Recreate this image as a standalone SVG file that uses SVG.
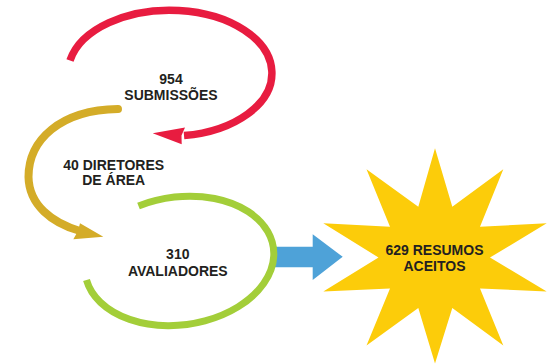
<svg xmlns="http://www.w3.org/2000/svg" width="551" height="364" viewBox="0 0 551 364">
  <style>
    .lbl { font-family: "Liberation Sans", Arial, sans-serif; font-weight: bold; font-size: 14px; fill: #231f20; text-anchor: middle; }
    .arc { fill: none; }
  </style>
  <rect width="551" height="364" fill="#ffffff"/>
  <g id="connectors">
    <path id="red-arc" class="arc" d="M70,60.5 A102 63 0 1 1 184,135.6" stroke="#e81c40" stroke-width="7.5"/>
    <path d="M152.7,133.3 L185,127.5 L181.5,135.5 L181.7,144.3 Z" fill="#e81c40"/>
    <path id="gold-arc" class="arc" d="M118,109 C60,110 28.5,140 28.5,177 C29,205 52,223 80,231" stroke="#d4ac28" stroke-width="8" stroke-linecap="round"/>
    <path d="M103.3,236.7 L80,223.3 L78,231 L73.3,239.3 Z" fill="#d4ac28"/>
    <path id="blue-arrow" d="M272,246.7 L312.7,246.7 L312.7,234.3 L342.7,256.8 L312.7,280 L312.7,267.3 L272,267.3 Z" fill="#4ea2d8"/>
  </g>
  <g id="node-submissoes">
    <text class="lbl" x="171" y="84">954</text>
    <text class="lbl" x="171" y="100">SUBMISSÕES</text>
  </g>
  <g id="node-diretores">
    <text class="lbl" x="113.7" y="169.5">40 DIRETORES</text>
    <text class="lbl" x="113.7" y="185">DE ÁREA</text>
  </g>
  <g id="node-avaliadores">
    <path class="arc" d="M138.5,206 A95 64 -8 1 1 86.5,280" stroke="#a3ce39" stroke-width="7"/>
    <text class="lbl" x="177.8" y="259.3">310</text>
    <text class="lbl" x="177.8" y="276">AVALIADORES</text>
  </g>
  <g id="node-aceitos">
    <polygon points="435,148.3 452.3,206.7 503.3,169.3 480,226.7 546.7,223.3 490,257.5 546.7,291.5 480,288.5 503.3,345.5 452.3,308 435,363.5 418.3,308 366.5,345.5 390,288.5 323.3,291.5 378.5,257.5 323.3,223.3 390,226.7 366.5,169.3 418.3,206.7" fill="#fccc0a"/>
    <text class="lbl" x="434.5" y="255">629 RESUMOS</text>
    <text class="lbl" x="434.5" y="270.7">ACEITOS</text>
  </g>
</svg>
